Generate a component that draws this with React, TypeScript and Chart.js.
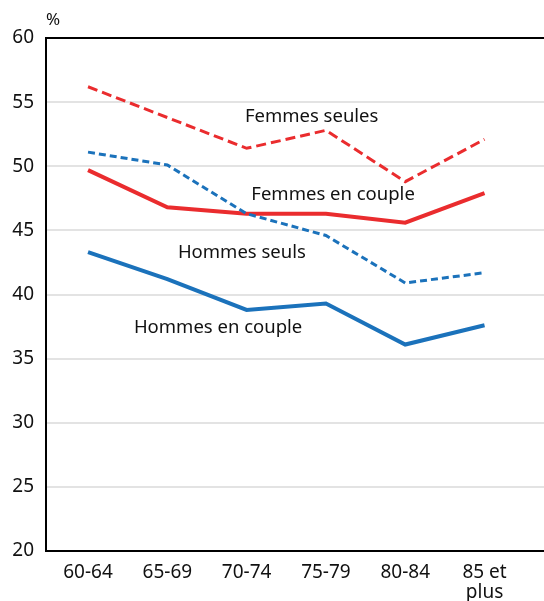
import React, { useEffect, useRef } from "react";
import { Chart, registerables } from "chart.js";

Chart.register(...registerables);

const categories = ["60-64", "65-69", "70-74", "75-79", "80-84", "85 et\nplus"];
const femmesSeules = [56.2, 53.8, 51.4, 52.8, 48.8, 52.1];
const hommesSeuls = [51.1, 50.1, 46.3, 44.6, 40.9, 41.7];
const femmesCouple = [49.7, 46.8, 46.3, 46.3, 45.6, 47.9];
const hommesCouple = [43.3, 41.2, 38.8, 39.3, 36.1, 37.6];
const yTicks = [20, 25, 30, 35, 40, 45, 50, 55, 60];

const seriesLabels = ["Femmes seules", "Femmes en couple", "Hommes seuls", "Hommes en couple"];
const labelX = [2.82, 3.09, 1.94, 1.64];
const labelY = [53.84, 47.76, 43.24, 37.39];

const RED = "#ea2c2e";
const BLUE = "#1b72bb";
const FONT = "'Noto Sans', sans-serif";

const toPoints = (arr: number[]) => arr.map((v, i) => ({ x: i, y: v }));

export default function App() {
  const ref = useRef<HTMLCanvasElement>(null);
  useEffect(() => {
    document.body.style.margin = "0";
    const textPlugin = {
      id: "texts",
      afterDatasetsDraw(chart: any) {
        const { ctx, scales, chartArea } = chart;
        ctx.save();
        ctx.fillStyle = "#111";
        ctx.font = `18.5px ${FONT}`;
        ctx.textAlign = "center";
        ctx.textBaseline = "middle";
        seriesLabels.forEach((t, i) => {
          ctx.fillText(t, scales.x.getPixelForValue(labelX[i]), scales.y.getPixelForValue(labelY[i]));
        });
        ctx.font = `17px ${FONT}`;
        ctx.textAlign = "center";
        ctx.fillText("%", chartArea.left + 7, chartArea.top - 18);
        ctx.restore();
      },
    };
    const chart = new Chart(ref.current!, {
      type: "line",
      data: {
        datasets: [
          { data: toPoints(femmesSeules), borderColor: RED, borderWidth: 3, borderDash: [10, 5] },
          { data: toPoints(hommesSeuls), borderColor: BLUE, borderWidth: 3, borderDash: [7, 4] },
          { data: toPoints(femmesCouple), borderColor: RED, borderWidth: 4 },
          { data: toPoints(hommesCouple), borderColor: BLUE, borderWidth: 4 },
        ].map((d) => ({ ...d, pointRadius: 0, tension: 0, fill: false })) as any,
      },
      options: {
        responsive: false,
        animation: false,
        layout: { padding: { top: 38, left: 0, right: 0, bottom: 0 } },
        plugins: { legend: { display: false }, tooltip: { enabled: false } },
        scales: {
          x: {
            type: "linear",
            min: -0.53,
            max: 5.75,
            afterBuildTicks(scale: any) {
              scale.ticks = categories.map((_, i) => ({ value: i }));
            },
            afterFit(scale: any) {
              scale.height = 50;
            },
            ticks: {
              autoSkip: false,
              maxRotation: 0,
              padding: 11,
              color: "#111",
              font: { family: FONT, size: 19, lineHeight: 1.08 },
              callback: (v: any) => {
                const s = categories[v as number];
                return s && s.includes("\n") ? s.split("\n") : s;
              },
            },
            grid: { display: true, drawOnChartArea: false, drawTicks: false, color: "transparent" },
            border: { display: true, color: "#000", width: 2 },
          },
          y: {
            type: "linear",
            min: 20,
            max: 60,
            afterBuildTicks(scale: any) {
              scale.ticks = yTicks.map((v) => ({ value: v }));
            },
            afterFit(scale: any) {
              scale.width = 46;
            },
            ticks: {
              padding: 12,
              color: "#111",
              font: { family: FONT, size: 19 },
            },
            grid: {
              drawTicks: false,
              color: (c: any) => (c.tick && c.tick.value === 60 ? "#000" : "#e3e3e3"),
              lineWidth: 2,
            },
            border: { display: true, color: "#000", width: 2 },
          },
        },
      },
      plugins: [textPlugin],
    });
    return () => chart.destroy();
  }, []);
  return <canvas ref={ref} width={544} height={601} />;
}
